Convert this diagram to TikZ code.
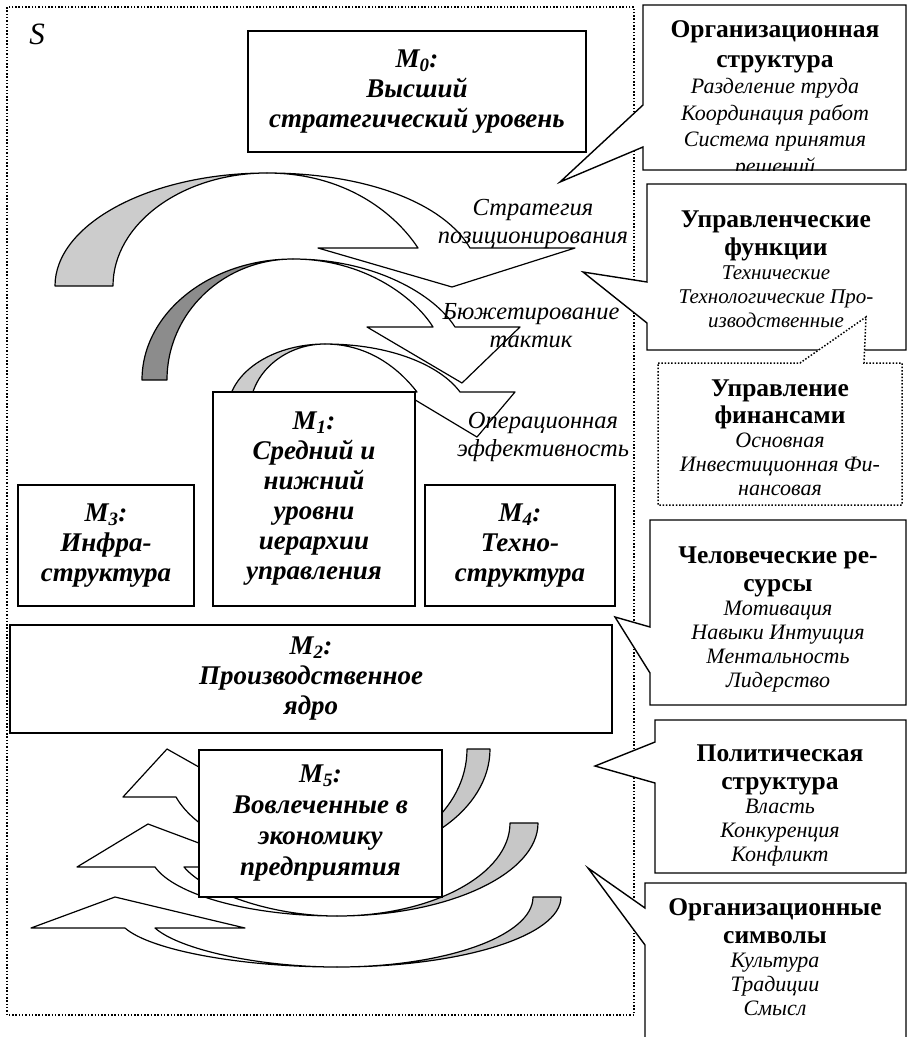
\documentclass[tikz,border=0pt]{standalone}
\usepackage{fontspec}
\setmainfont{Liberation Serif}
\usetikzlibrary{positioning}

\definecolor{shadeA}{gray}{0.80}
\definecolor{shadeB}{gray}{0.55}
\definecolor{shadeC}{gray}{0.78}

\newcommand{\hfnt}{\fontsize{25.5}{28}\selectfont\bfseries\upshape}
\newcommand{\mname}[1]{M\textsubscript{#1}:}

\tikzset{
  sframe/.style={line width=1.5pt, dash pattern=on 1.5pt off 1.8pt},
  mbox/.style={draw, line width=1.4pt, fill=white, align=center, inner sep=0pt,
    font=\fontsize{27}{30}\selectfont\bfseries\itshape},
  bubble/.style={draw, line width=1.4pt, fill=white, line join=miter},
  finbubble/.style={draw, fill=white, line width=1.5pt, dash pattern=on 1.5pt off 1.8pt},
  btext/.style={align=center, anchor=north, inner sep=0pt, font=\fontsize{22}{24}\selectfont\itshape},
  flow/.style={draw, line width=1.2pt, line join=round},
  flowlbl/.style={align=center, inner sep=0pt, font=\fontsize{24.5}{28}\selectfont\itshape}
}

\begin{document}
\begin{tikzpicture}[x=1pt, y=-1pt]
    \useasboundingbox (0,0) rectangle (912,1037);

    % system S
    \draw[sframe] (7,7) rectangle (634,1015);
    \node[font=\fontsize{31}{31}\selectfont\itshape] (slbl) at (37,34) {S};

    % upper arrows
    \filldraw[flow, fill=shadeA] (55,286) .. controls (55,224) and (150,173) .. (267,173)
        .. controls (182,173) and (113,224) .. (113,286) -- cycle;
    \filldraw[flow, fill=white] (267,173) .. controls (370,173) and (445,205) .. (470,248)
        -- (575,248) -- (452,287) -- (318,248) -- (418,248)
        .. controls (395,213) and (345,173) .. (267,173) -- cycle;

    \filldraw[flow, fill=shadeB] (142,380) .. controls (142,313) and (210,259) .. (293,259)
        .. controls (223,259) and (167,313) .. (167,380) -- cycle;
    \filldraw[flow, fill=white] (293,259) .. controls (375,259) and (435,295) .. (455,327)
        -- (520,327) -- (462,383) -- (367,327) -- (433,327)
        .. controls (415,298) and (365,259) .. (293,259) -- cycle;

    \filldraw[flow, fill=shadeA] (228,410) .. controls (228,374) and (271,344) .. (325,344)
        .. controls (284,344) and (250,374) .. (250,410) -- cycle;
    \filldraw[flow, fill=white] (325,344) .. controls (390,344) and (440,365) .. (460,392)
        -- (515,392) -- (477,437) -- (402,392) -- (417,392)
        .. controls (400,370) and (370,344) .. (325,344) -- cycle;

    \node[flowlbl] (strat) at (533,224) {Стратегия\\позиционирования};
    \node[flowlbl] (budget) at (531,326) {Бюжетирование\\тактик};
    \node[flowlbl] (oper) at (543,437) {Операционная\\эффективность};

    % parts of the organisation
    \node[mbox, minimum width=338, minimum height=121] (m0) at (417,91.5) {\mname{0}\\Высший\\стратегический уровень};
    \node[mbox, minimum width=202, minimum height=214] (m1) at (314,499) {\mname{1}\\Средний и\\нижний\\уровни\\иерархии\\управления};
    \node[mbox, minimum width=176, minimum height=121] (m3) at (106,545.5) {\mname{3}\\Инфра-\\структура};
    \node[mbox, minimum width=190, minimum height=121] (m4) at (520,545.5) {\mname{4}\\Техно-\\структура};
    \node[mbox, minimum width=602, minimum height=108] (m2) at (311,679) {\mname{2}\\Производственное\\ядро};

    % lower arrows
    \filldraw[flow, fill=shadeC] (490,749) .. controls (490,810) and (418,860) .. (330,860)
        .. controls (406,860) and (467,810) .. (467,749) -- cycle;
    \filldraw[flow, fill=white] (330,860) .. controls (250,860) and (195,830) .. (176,797)
        -- (123,797) -- (167,749) -- (252,797) -- (205,797)
        .. controls (225,830) and (270,860) .. (330,860) -- cycle;

    \filldraw[flow, fill=shadeC] (538,823) .. controls (538,874) and (448,916) .. (337,916)
        .. controls (433,916) and (510,874) .. (510,823) -- cycle;
    \filldraw[flow, fill=white] (337,916) .. controls (250,916) and (175,895) .. (155,867)
        -- (77,867) -- (148,824) -- (263,867) -- (184,867)
        .. controls (205,892) and (270,916) .. (337,916) -- cycle;

    \filldraw[flow, fill=shadeC] (561,897) .. controls (561,936) and (461,967) .. (337,967)
        .. controls (445,967) and (533,936) .. (533,897) -- cycle;
    \filldraw[flow, fill=white] (337,967) .. controls (240,967) and (150,950) .. (125,928)
        -- (31,928) -- (115,897) -- (245,928) -- (155,928)
        .. controls (180,950) and (260,967) .. (337,967) -- cycle;

    \node[mbox, minimum width=243, minimum height=147, font=\fontsize{27}{31}\selectfont\bfseries\itshape] (m5) at (320.5,823.5) {\mname{5}\\Вовлеченные в\\экономику\\предприятия};

    % callouts
    \filldraw[bubble] (643,5) -- (906,5) -- (906,170) -- (643,170) -- (643,147) -- (560,182) -- (643,105) -- cycle;
    \begin{scope}
        \clip (643,5) rectangle (906,170);
        \node[btext, font=\fontsize{22}{26.5}\selectfont\itshape] (orgtxt) at (775,20)
            {{\hfnt Организационная}\\[3.5pt]{\hfnt структура}\\Разделение труда\\Координация работ\\Система принятия\\решений};
    \end{scope}

    \filldraw[bubble] (647,184) -- (906,184) -- (906,350) -- (647,350) -- (647,323) -- (583,272) -- (647,282) -- cycle;
    \filldraw[finbubble] (658,363) -- (800,363) -- (866,317) -- (864,363) -- (902,363) -- (902,505) -- (658,505) -- cycle;
    \node[btext, font=\fontsize{21}{24}\selectfont\itshape] (fnctxt) at (776,211) {{\hfnt Управленческие}\\[4pt]{\hfnt функции}\\Технические\\Технологические Про-\\изводственные};
    \node[btext] (fintxt) at (780,380) {{\hfnt Управление}\\[3pt]{\hfnt финансами}\\Основная\\Инвестиционная Фи-\\нансовая};

    \filldraw[bubble] (650,520) -- (906,520) -- (906,705) -- (650,705) -- (650,673) -- (615,617) -- (650,627) -- cycle;
    \node[btext] (humtxt) at (778,547) {{\hfnt Человеческие ре-}\\[4pt]{\hfnt сурсы}\\Мотивация\\Навыки Интуиция\\Ментальность\\Лидерство};

    \filldraw[bubble] (655,720) -- (906,720) -- (906,873) -- (655,873) -- (655,783) -- (595,766) -- (655,742) -- cycle;
    \node[btext] (poltxt) at (780,745) {{\hfnt Политическая}\\[4pt]{\hfnt структура}\\Власть\\Конкуренция\\Конфликт};

    \filldraw[bubble] (645,883) -- (906,883) -- (906,1050) -- (645,1050) -- (645,945) -- (588,868) -- (645,908) -- cycle;
    \node[btext] (symtxt) at (775,898) {{\hfnt Организационные}\\[4pt]{\hfnt символы}\\Культура\\Традиции\\Смысл};
\end{tikzpicture}
\end{document}
